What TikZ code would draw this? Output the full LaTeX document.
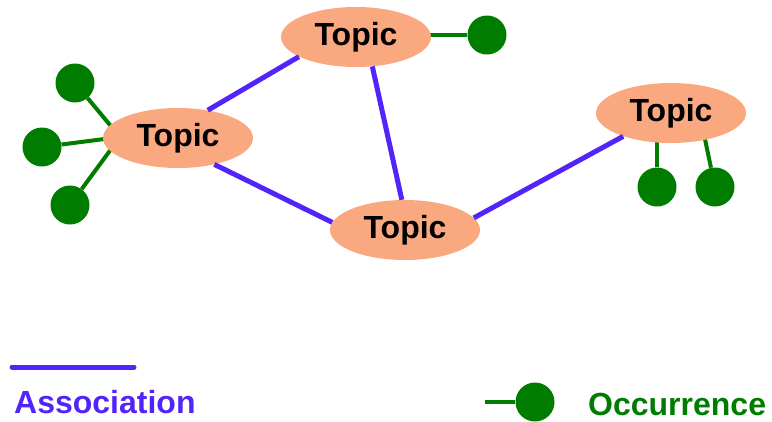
\documentclass[tikz,border=0pt]{standalone}
\usepackage{fontspec}
\setmainfont{Liberation Sans}
\usetikzlibrary{shapes.geometric,backgrounds}
\definecolor{topicfill}{RGB}{250,168,128}
\definecolor{assocblue}{RGB}{82,36,250}
\definecolor{occgreen}{RGB}{0,125,0}
\tikzset{
  topic/.style={ellipse, fill=topicfill, minimum width=150pt, minimum height=60pt, inner sep=0pt,
    font=\fontsize{32}{36}\selectfont\bfseries, text=black},
  occ/.style={circle, fill=occgreen, minimum size=39pt, inner sep=0pt},
  assoc/.style={draw=assocblue, line width=5pt},
  occline/.style={draw=occgreen, line width=4pt},
  legend/.style={font=\fontsize{32}{36}\selectfont\bfseries, inner sep=0pt}
}
\begin{document}
\begin{tikzpicture}[x=1pt,y=-1pt]
\useasboundingbox (0,0) rectangle (772,421);
% topics
\node[topic] (tTop) at (356,37) {Topic};
\node[topic] (tLeft) at (178,138) {Topic};
\node[topic] (tBot) at (405,230) {Topic};
\node[topic] (tRight) at (671,113) {Topic};
% occurrences
\node[occ] (oTop) at (487,35) {};
\node[occ] (oL1) at (75,83) {};
\node[occ] (oL2) at (42,147) {};
\node[occ] (oL3) at (70,205) {};
\node[occ] (oR1) at (657,187) {};
\node[occ] (oR2) at (715,187) {};
% hubs
\coordinate (hL) at (120,137);
\coordinate (hTop) at (400,35);
\coordinate (hR1) at (657,120);
\coordinate (hR2) at (701,120);
\begin{pgfonlayer}{background}
\draw[occline] (oTop) -- (hTop);
\draw[occline] (oL1) -- (hL);
\draw[occline] (oL2) -- (hL);
\draw[occline] (oL3) -- (hL);
\draw[occline] (oR1) -- (hR1);
\draw[occline] (oR2) -- (hR2);
\end{pgfonlayer}
% associations
\draw[assoc] (tLeft.43) -- (tTop.-161);
\draw[assoc] (tLeft.-36) -- (tBot.174);
\draw[assoc] (tTop.-61) -- (tBot.96);
\draw[assoc] (tBot.10) -- (tRight.-154);
% legend
\coordinate (la) at (12,367);
\coordinate (lb) at (134,367);
\draw[assoc, line cap=round] (la) -- (lb);
\node[legend, text=assocblue, anchor=base west] (lAssoc) at (14,413) {Association};
\node[occ] (lOcc) at (535,402) {};
\coordinate (lo) at (485,402);
\begin{pgfonlayer}{background}
\draw[occline] (lo) -- (lOcc);
\end{pgfonlayer}
\node[legend, text=occgreen, anchor=base west] (lOccT) at (588,415) {Occurrence};
\end{tikzpicture}
\end{document}
